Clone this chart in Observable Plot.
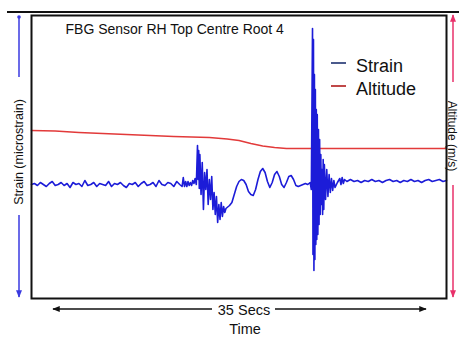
<!DOCTYPE html>
<html><head><meta charset="utf-8">
<script src="https://cdn.jsdelivr.net/npm/d3@7"></script>
<script src="https://cdn.jsdelivr.net/npm/@observablehq/plot@0.6"></script>
<style>body{margin:0;background:#fff}#chart{width:459px;height:341px}</style>
</head><body><div id="chart"></div>
<script>
// Time in seconds (0–35), strain in microstrain (relative)
const strainSamples = [
[0,0],[0.25,1],[0.5,-1],[0.75,2],[1,0],[1.25,-2],[1.5,1],[1.75,3],[2,-1],[2.25,0],[2.5,2],[2.75,-1],[3,1],[3.25,-3],[3.5,2],[3.75,0],[4,1],[4.25,-2],[4.5,4],[4.75,-1],[5,0],[5.25,2],[5.5,-2],[5.75,1],[6,0],[6.25,-1],[6.5,3],[6.75,-2],[7,1],[7.25,0],[7.5,2],[7.75,-1],[8,-3],[8.25,1],[8.5,0],[8.75,2],[9,-2],[9.25,1],[9.5,3],[9.75,-1],[10,0],[10.25,2],[10.5,-2],[10.75,4],[11,0],[11.25,-1],[11.5,2],[11.75,1],[12,-2],[12.25,3],[12.5,0],[12.7,-2],[12.8,7],[12.9,-2],[13,3],[13.1,-2],[13.2,3],
[13.3,-1],[13.4,2],[13.5,-1],[13.6,4],[13.7,1],[13.8,6],[13.9,0],[14.0,39],[14.05,5],[14.1,34],[14.15,-4],[14.2,30],[14.3,-10],[14.4,22],[14.5,-25],[14.6,12],[14.7,-5],[14.8,15],[14.9,-20],[15.0,5],[15.1,-15],[15.2,8],[15.3,-25],[15.4,-8],[15.5,-30],[15.6,-12],[15.7,-38],[15.8,-20],[15.9,-35],[16.0,-18],[16.1,-32],[16.2,-22],[16.3,-28],[16.4,-24],[16.5,-23],[16.7,-21],[16.9,-18],[17.1,-10],[17.3,-2],[17.5,3],[17.7,5],[17.9,4],[18.1,0],[18.3,-7],[18.5,-10],[18.7,-11],[18.9,-5],[19.1,5],[19.3,13],[19.5,16],[19.7,12],[19.9,3],[20.1,-3],[20.3,2],[20.5,10],[20.7,13],[20.9,8],[21.1,0],[21.3,-3],[21.5,2],[21.7,8],[21.9,9],[22.1,5],[22.3,-1],[22.5,-2],[22.7,-1],[22.9,0],[23.1,1],[23.3,0],[23.5,2],[23.6,-5],
[23.7,156],[23.74,-70],[23.78,145],[23.82,-86],[23.86,110],[23.9,-75],[23.94,95],[23.98,-60],[24.02,75],[24.06,-55],[24.1,70],[24.15,-50],[24.2,55],[24.25,-40],[24.3,45],[24.35,-30],[24.4,30],[24.45,-20],[24.5,15],[24.55,-30],[24.6,25],[24.65,-25],[24.7,20],[24.8,-15],[24.9,15],[25.0,-12],[25.1,10],[25.2,-8],[25.3,6],[25.4,-6],[25.5,4],[25.6,-3],[25.8,2],[26.0,6],[26.1,0],[26.2,7],[26.3,1],[26.4,5],
[26.6,3],[26.9,5],[27.2,3],[27.5,4],[27.8,2],[28.1,4],[28.4,3],[28.7,5],[29,3],[29.3,4],[29.6,2],[29.9,4],[30.2,5],[30.5,3],[30.8,4],[31.1,2],[31.4,4],[31.7,3],[32,5],[32.3,3],[32.6,4],[32.9,2],[33.2,4],[33.5,5],[33.8,3],[34.1,4],[34.4,5],[34.7,3],[35,4]
];
// Altitude plotted on the shared (relative) vertical scale
const altitudeSamples = [
[0,54],[2,53.5],[4,52],[6,51],[8,50],[10,49],[12,48],[13.5,47.5],[15,47],[16.5,45.5],[17.5,44],[18.5,41],[19.5,38.5],[20.5,37],[21.5,36],[23,36],[26,36],[30,36],[35,36]
];
const seriesNames = ["Strain", "Altitude"];
const seriesColors = ["#1c1cd8", "#e23a3a"];
const legendColors = ["#4a5a8c", "#c04848"];
const title = "FBG Sensor RH Top Centre Root 4";
const yLabelLeft = "Strain (microstrain)";
const yLabelRight = "Altitude (m/s)";
const xSpanLabel = "35 Secs";
const xLabel = "Time";

const strain = strainSamples.map(([t, v]) => ({t, v}));
const altitude = altitudeSamples.map(([t, v]) => ({t, v}));
const FONT = "Liberation Sans, Arial, sans-serif";

const chart = Plot.plot({
  width: 459, height: 341,
  marginLeft: 31, marginRight: 13, marginTop: 15, marginBottom: 43,
  x: {domain: [0, 35], axis: null},
  y: {domain: [-114, 169], axis: null},
  style: {fontFamily: FONT, background: "#fff"},
  marks: [
    Plot.line(altitude, {x: "t", y: "v", stroke: seriesColors[1], strokeWidth: 1.5}),
    Plot.line(strain, {x: "t", y: "v", stroke: seriesColors[0], strokeWidth: 1.6}),
    Plot.frame({stroke: "#111", strokeWidth: 2}),
    Plot.text([title], {frameAnchor: "top-left", dx: 34, dy: 9, text: d => d, fontSize: 14, fill: "#111", textAnchor: "start", lineAnchor: "top"})
  ]
});
document.getElementById("chart").appendChild(chart);

const svg = d3.select(chart);
const defs = svg.append("defs");
function mk(id, color) {
  defs.append("marker").attr("id", id).attr("viewBox", "0 0 10 10").attr("refX", 9).attr("refY", 5)
    .attr("markerWidth", 5).attr("markerHeight", 5).attr("orient", "auto-start-reverse")
    .append("path").attr("d", "M0,1 L10,5 L0,9 z").attr("fill", color);
}
mk("ab", "#3a3ae0"); mk("ar", "#e8306a"); mk("ak", "#111");
const g = svg.append("g").attr("font-family", FONT);

// top double line
g.append("line").attr("x1", 7).attr("x2", 459).attr("y1", 12).attr("y2", 12).attr("stroke", "#111").attr("stroke-width", 2);

// legend
seriesNames.forEach((n, i) => {
  const y = 66 + i * 23;
  g.append("line").attr("x1", 331).attr("x2", 346).attr("y1", y - 3).attr("y2", y - 3).attr("stroke", legendColors[i]).attr("stroke-width", 2);
  g.append("text").attr("x", 356).attr("y", y).attr("dy", "0.35em").attr("text-anchor", "start").attr("font-size", 18).attr("fill", "#111").text(n);
});

// left axis annotation
g.append("line").attr("x1", 19).attr("x2", 19).attr("y1", 17).attr("y2", 77).attr("stroke", "#3a3ae0").attr("stroke-width", 1.5);
g.append("circle").attr("cx", 19).attr("cy", 17).attr("r", 1.8).attr("fill", "#3a3ae0");
g.append("line").attr("x1", 19).attr("x2", 19).attr("y1", 215).attr("y2", 297).attr("stroke", "#3a3ae0").attr("stroke-width", 1.5).attr("marker-end", "url(#ab)");
g.append("text").attr("transform", "translate(19,152) rotate(-90)").attr("text-anchor", "middle").attr("dy", "0.35em").attr("font-size", 12.5).attr("fill", "#111").text(yLabelLeft);

// right axis annotation
g.append("line").attr("x1", 453).attr("x2", 453).attr("y1", 82).attr("y2", 15).attr("stroke", "#e8306a").attr("stroke-width", 1.5).attr("marker-end", "url(#ar)");
g.append("line").attr("x1", 453).attr("x2", 453).attr("y1", 185).attr("y2", 297).attr("stroke", "#e8306a").attr("stroke-width", 1.5).attr("marker-end", "url(#ar)");
g.append("text").attr("transform", "translate(452,136) rotate(90)").attr("text-anchor", "middle").attr("dy", "0.35em").attr("font-size", 12).attr("fill", "#111").text(yLabelRight);

// bottom time annotation
g.append("line").attr("x1", 212).attr("x2", 53).attr("y1", 309).attr("y2", 309).attr("stroke", "#111").attr("stroke-width", 1.5).attr("marker-end", "url(#ak)");
g.append("line").attr("x1", 275).attr("x2", 426).attr("y1", 309).attr("y2", 309).attr("stroke", "#111").attr("stroke-width", 1.5).attr("marker-end", "url(#ak)");
g.append("text").attr("x", 244).attr("y", 310).attr("text-anchor", "middle").attr("dy", "0.35em").attr("font-size", 14.5).attr("fill", "#111").text(xSpanLabel);
g.append("text").attr("x", 245).attr("y", 329).attr("text-anchor", "middle").attr("dy", "0.35em").attr("font-size", 14.5).attr("fill", "#111").text(xLabel);
</script></body></html>
